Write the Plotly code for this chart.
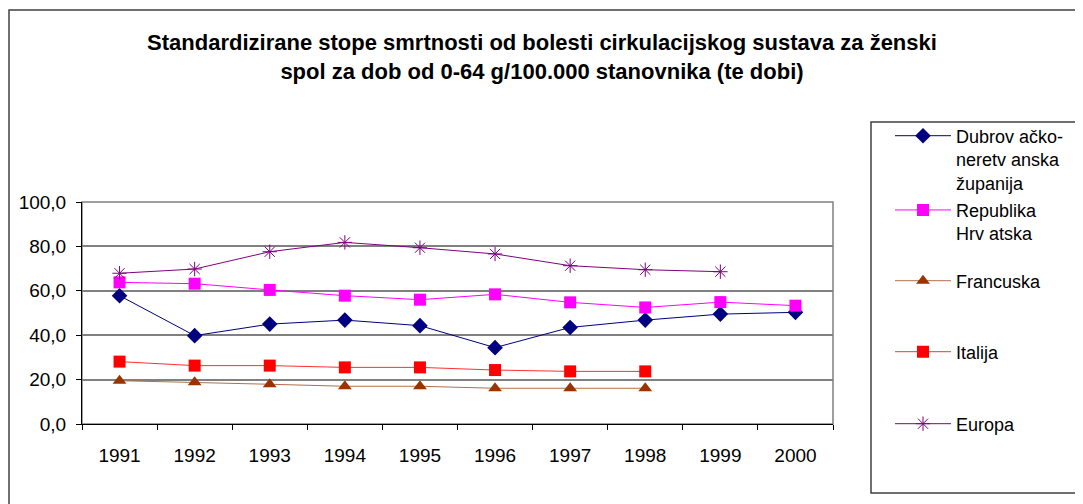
import plotly.graph_objects as go

years = ["1991", "1992", "1993", "1994", "1995", "1996", "1997", "1998", "1999", "2000"]
dubrovnik = [57.8, 39.8, 45.0, 46.8, 44.3, 34.4, 43.5, 46.8, 49.5, 50.3]
hrvatska = [63.8, 63.2, 60.4, 57.8, 56.0, 58.4, 54.8, 52.5, 54.9, 53.3]
francuska = [19.5, 18.8, 17.9, 17.0, 17.0, 16.1, 16.1, 16.1]
italija = [28.1, 26.3, 26.3, 25.5, 25.5, 24.3, 23.7, 23.7]
europa = [67.9, 69.8, 77.6, 81.8, 79.4, 76.6, 71.3, 69.5, 68.6]

names = ["Dubrov ačko-<br>neretv anska<br>županija", "Republika<br>Hrv atska",
         "Francuska", "Italija", "Europa"]

FONT = "Arial, Liberation Sans, sans-serif"
OFF = 8  # page body margin
W, H = 1083 - OFF, 504 - OFF
L, R, T, B = 82 - OFF, 833 - OFF, 202 - OFF, 424 - OFF


def px(x):
    """page x pixel -> paper coord"""
    return (x - OFF - L) / (R - L)


def py(y):
    """page y pixel -> paper coord"""
    return (B - (y - OFF)) / (B - T)


series = [
    (dubrovnik, names[0], "#000080", "#000080", "diamond", 12, "legend"),
    (hrvatska, names[1], "#FF00FF", "#FF00FF", "square", 12, "legend2"),
    (francuska, names[2], "#B0704A", "#993300", "triangle-up", 12, "legend3"),
    (italija, names[3], "#FF3030", "#FF0000", "square", 12, "legend4"),
    (europa, names[4], "#800080", "#800080", "asterisk-open", 12, "legend5"),
]

fig = go.Figure()
for vals, name, lc, mc, sym, size, leg in series:
    marker = dict(symbol=sym, size=size, color=mc)
    if sym == "asterisk-open":
        marker["line"] = dict(color=mc, width=1)
    fig.add_trace(go.Scatter(
        x=years[:len(vals)], y=vals, name=name, mode="lines+markers",
        line=dict(color=lc, width=1), marker=marker, legend=leg, showlegend=True,
    ))

legend_centers = [159.5, 221.75, 281, 352, 424]
common = dict(x=px(890), xanchor="left", yanchor="middle", bgcolor="rgba(0,0,0,0)",
              font=dict(family=FONT, size=18, color="black"), itemwidth=56,
              valign="top", borderwidth=0)
layout_legends = {}
for i, c in enumerate(legend_centers):
    key = "legend" if i == 0 else f"legend{i+1}"
    layout_legends[key] = dict(common, y=py(c))

fig.update_layout(
    width=W, height=H,
    margin=dict(l=L, r=W - R, t=T, b=H - B, pad=0),
    paper_bgcolor="white", plot_bgcolor="white",
    separators=",.",
    showlegend=True,
    font=dict(family=FONT, size=19, color="black"),
    title=dict(
        text="<b>Standardizirane stope smrtnosti od bolesti cirkulacijskog sustava za ženski<br>spol za dob od 0-64 g/100.000 stanovnika (te dobi)</b>",
        x=(542 - OFF) / W, xref="container", xanchor="center",
        y=1 - (50 - OFF) / H, yref="container", yanchor="middle",
        font=dict(family=FONT, size=22, color="black"),
    ),
    xaxis=dict(
        type="category", range=[-0.5, 9.5], showgrid=False,
        showline=True, linecolor="black", linewidth=1,
        ticks="outside", tickson="boundaries", ticklen=5, tickcolor="black",
        ticklabelstandoff=14, tickfont=dict(size=19),
    ),
    yaxis=dict(
        range=[0, 100], dtick=20, tickformat=".1f",
        showgrid=True, gridcolor="#808080", gridwidth=1.5,
        showline=True, linecolor="black", linewidth=1,
        ticks="outside", ticklen=5, tickcolor="black",
        ticklabelstandoff=6, tickfont=dict(size=19), zeroline=False,
    ),
    shapes=[
        dict(type="rect", xref="paper", yref="paper", x0=0, x1=1, y0=0, y1=1,
             line=dict(color="#808080", width=1.5), layer="below"),
        dict(type="rect", xref="paper", yref="paper",
             x0=px(9), x1=px(1100), y0=py(520), y1=py(10),
             line=dict(color="#404040", width=1.5)),
        dict(type="rect", xref="paper", yref="paper",
             x0=px(871), x1=px(1100), y0=py(493), y1=py(122),
             line=dict(color="#404040", width=1.5)),
    ],
    **layout_legends,
)

fig.write_html("out.html")
